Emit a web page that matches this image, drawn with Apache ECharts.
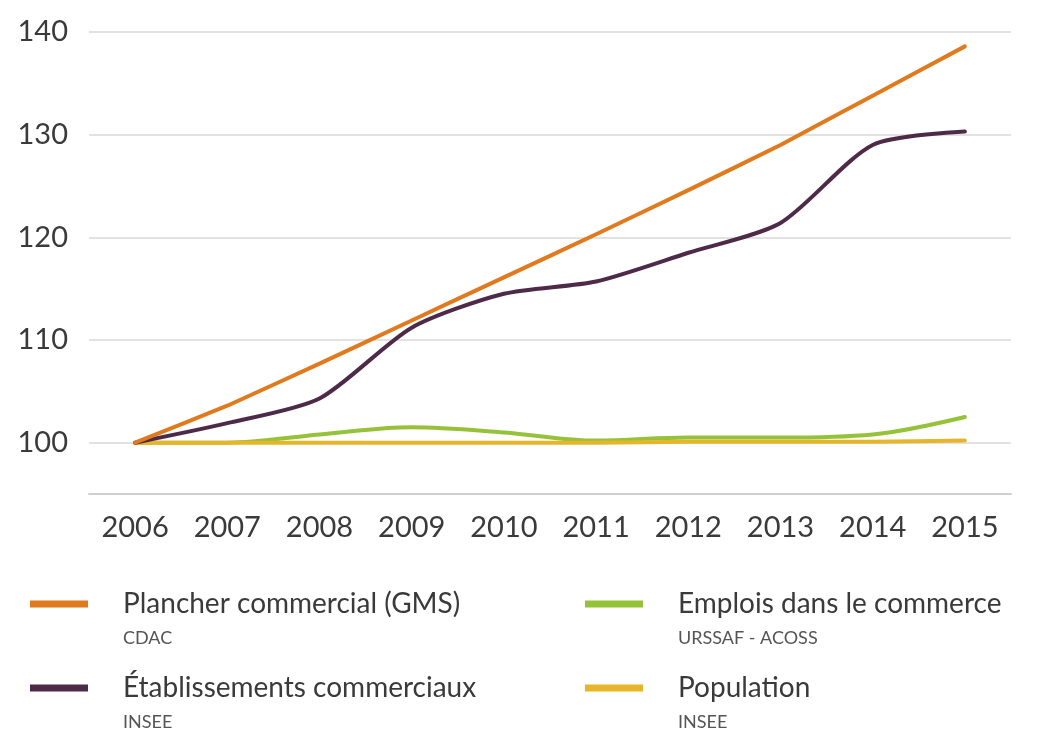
<!DOCTYPE html>
<html>
<head>
<meta charset="utf-8">
<script src="https://cdn.jsdelivr.net/npm/echarts@6/dist/echarts.min.js"></script>
<style>
  html, body { margin: 0; padding: 0; background: #fff; }
  #chart { width: 1042px; height: 732px; }
</style>
</head>
<body>
<div id="chart"></div>
<script>
  'use strict'
  var years = ['2006', '2007', '2008', '2009', '2010', '2011', '2012', '2013', '2014', '2015'];
  var plancher = [100, 103.6, 107.7, 111.9, 116.1, 120.3, 124.6, 129.0, 133.8, 138.6];
  var etablissements = [100, 101.9, 104.3, 111.2, 114.5, 115.7, 118.5, 121.4, 129.0, 130.3];
  var emplois = [100, 100.0, 100.8, 101.5, 101.0, 100.2, 100.5, 100.5, 100.8, 102.5];
  var population = [100, 100.0, 100.0, 100.0, 100.0, 100.0, 100.1, 100.1, 100.1, 100.2];

  var seriesNames = ['Plancher commercial (GMS)', 'Établissements commerciaux', 'Emplois dans le commerce', 'Population'];
  var sources = ['CDAC', 'INSEE', 'URSSAF - ACOSS', 'INSEE'];
  var colors = ['#e07a1e', '#4e2a49', '#96c23a', '#e6b52a'];

  var font = 'Lato, "Noto Sans", sans-serif';

  var chart = echarts.init(document.getElementById('chart'));

  function legendFor(idx, left, top) {
    return {
      data: [seriesNames[idx]],
      left: left,
      top: top,
      padding: 0,
      itemWidth: 58,
      itemHeight: 7,
      icon: 'rect',
      selectedMode: false,
      formatter: function (name) {
        return '{gap| }\n{name|' + name + '}\n{sub|' + sources[idx] + '}';
      },
      textStyle: {
        rich: {
          gap: { lineHeight: 38, fontSize: 10 },
          name: { fontFamily: font, fontSize: 28, color: '#3a3a3a', lineHeight: 30, padding: [0, 0, 0, 30] },
          sub: { fontFamily: font, fontSize: 18, color: '#555', lineHeight: 38, padding: [0, 0, 0, 30] }
        }
      }
    };
  }

  function lineSeries(name, data, color, smooth) {
    return {
      name: name,
      type: 'line',
      data: data,
      smooth: smooth,
      symbol: 'none',
      lineStyle: { width: 4, color: color, cap: 'round' },
      itemStyle: { color: color }
    };
  }

  var option = {
    backgroundColor: '#fff',
    animation: false,
    grid: { left: 89, right: 31, top: 32, bottom: 238 },
    xAxis: {
      type: 'category',
      data: years,
      boundaryGap: true,
      axisLine: { lineStyle: { color: '#cfcfcf', width: 2 } },
      axisTick: { show: false },
      axisLabel: { fontFamily: font, fontSize: 29, color: '#3a3a3a', margin: 19 }
    },
    yAxis: {
      type: 'value',
      min: 95,
      max: 140,
      interval: 5,
      axisLine: { show: false },
      axisTick: { show: false },
      axisLabel: {
        fontFamily: font, fontSize: 29, color: '#3a3a3a', margin: 21,
        formatter: function (v) { return v % 10 === 0 ? String(v) : ''; }
      },
      splitLine: { lineStyle: { color: ['transparent', '#e2e2e2'], width: 2 } }
    },
    legend: [
      legendFor(0, 30, 565),
      legendFor(1, 30, 649),
      legendFor(2, 585, 565),
      legendFor(3, 585, 649)
    ],
    series: [
      lineSeries(seriesNames[2], emplois, colors[2], 0.35),
      lineSeries(seriesNames[3], population, colors[3], 0.2),
      lineSeries(seriesNames[1], etablissements, colors[1], 0.25),
      lineSeries(seriesNames[0], plancher, colors[0], 0.1)
    ]
  };
  chart.setOption(option);
</script>
</body>
</html>
